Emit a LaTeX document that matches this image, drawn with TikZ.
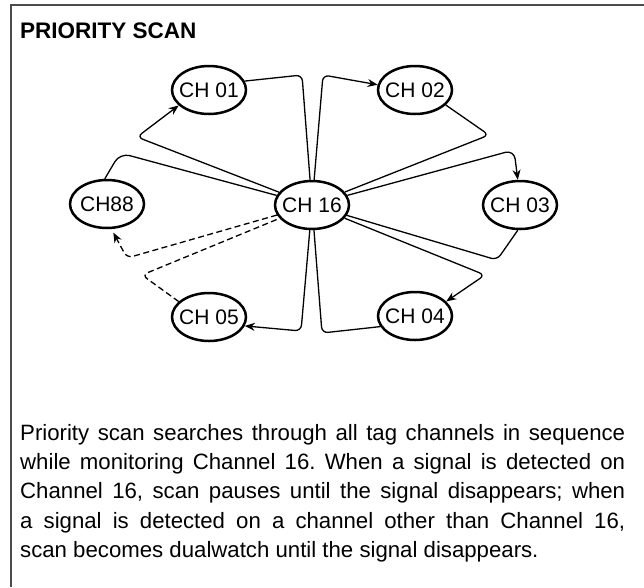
\documentclass[tikz,border=0pt]{standalone}
\usepackage{fontspec}
\setmainfont{Liberation Sans}
\usetikzlibrary{arrows.meta,shapes.geometric}
\newcommand\chlabel[1]{\makebox[0pt]{#1}}
\frenchspacing
\begin{document}
\begin{tikzpicture}[x=1pt,y=-1pt,
  ch/.style={ellipse,draw,line width=2.5pt,minimum width=74pt,minimum height=48pt,inner sep=0pt,font=\fontsize{21}{24}\selectfont},
  conn/.style={line width=1.3pt,rounded corners=6pt},
  tip/.style={-{Stealth[length=10pt,width=8pt]}},
  dsh/.style={dash pattern=on 6pt off 3.5pt}]
\useasboundingbox (0,0) rectangle (644,587);
\draw[line width=1.6pt,gray!60!black] (11,587) -- (11,5) -- (644,5);
\node[anchor=base west,inner sep=0pt,font=\bfseries\fontsize{22.5}{27}\selectfont] (title) at (20,38) {PRIORITY SCAN};
\node[ch] (c16) at (312,205) {\chlabel{CH 16}};
\node[ch] (c01) at (209,90) {\chlabel{CH 01}};
\node[ch] (c02) at (415,90) {\chlabel{CH 02}};
\node[ch] (c88) at (107,204) {\chlabel{CH88}};
\node[ch] (c03) at (520,205) {\chlabel{CH 03}};
\node[ch] (c05) at (209,317) {\chlabel{CH 05}};
\node[ch] (c04) at (415,316) {\chlabel{CH 04}};
% solid connectors
\draw[conn,tip] (c16) -- (137,137) -- (c01.207);
\draw[conn,rounded corners=10pt] (c88.95) -- (120,153) -- (c16);
\draw[conn] (c01.14) -- (302,75) -- (c16);
\draw[conn,tip] (c16) -- (323,75) -- (c02.172);
\draw[conn] (c02.-26) -- (489,135) -- (c16);
\draw[conn,tip,rounded corners=9pt] (c16) -- (514,150) -- (c03.95);
\draw[conn] (c03.265) -- (497,260) -- (c16);
\draw[conn,tip] (c16) -- (485,275) -- (c04.25);
\draw[conn] (c04.197) -- (322,333) -- (c16);
\draw[conn,tip] (c16) -- (301,331) -- (c05.-14);
% dashed connectors
\draw[conn,dsh] (c05.153) -- (142,275) -- (c16);
\draw[conn,dsh,tip,shorten >=4pt] (c16) -- (127,258) -- (c88.-80);
\node[anchor=north west,inner sep=0pt,text width=605pt,align=justify,font=\fontsize{22.2}{29.3}\selectfont] (body) at (20,424)
{Priority scan searches through all tag channels in sequence\linebreak
while monitoring Channel 16. When a signal is detected on\linebreak
Channel 16, scan pauses until the signal disappears; when\linebreak
a signal is detected on a channel other than Channel 16,\linebreak
scan becomes dualwatch until the signal disappears.};
\end{tikzpicture}
\end{document}
